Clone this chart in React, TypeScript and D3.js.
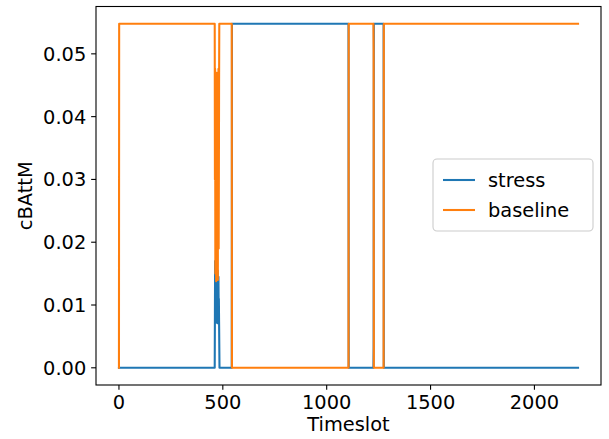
import React from "react";
import * as d3 from "d3";

// Step-series keyframes (timeslot, value)
const stressT = [0, 461, 462, 463, 464, 465, 466, 467, 468, 469, 470, 471, 472, 473, 474, 475, 476, 477, 478, 479, 480, 481, 482, 484, 543, 544, 1105, 1106, 1225, 1226, 1227, 1274, 1275, 2210];
const stressV = [0, 0, 0.009, 0.017, 0.008, 0.015, 0.0072, 0.0165, 0.01, 0.014, 0.0075, 0.016, 0.009, 0.012, 0.0071, 0.0155, 0.0085, 0.013, 0.0078, 0.0145, 0.0095, 0.011, 0.0073, 0, 0, 0.0548, 0.0548, 0, 0, 0.0035, 0.0548, 0.0548, 0, 0];

const baselineT = [0, 1, 461, 462, 463, 464, 465, 466, 467, 468, 469, 470, 471, 472, 473, 474, 475, 476, 477, 478, 479, 480, 481, 482, 483, 543, 544, 1105, 1106, 1225, 1226, 1227, 1274, 1275, 2210];
const baselineV = [0, 0.0548, 0.0548, 0.03, 0.0476, 0.015, 0.042, 0.02, 0.046, 0.0138, 0.038, 0.025, 0.047, 0.016, 0.044, 0.022, 0.035, 0.014, 0.041, 0.028, 0.0476, 0.019, 0.03, 0.045, 0.0548, 0.0548, 0, 0, 0.0548, 0.0548, 0.0505, 0, 0, 0.0548, 0.0548];

const xTicks = [0, 500, 1000, 1500, 2000];
const yTicks = [0, 0.01, 0.02, 0.03, 0.04, 0.05];
const seriesNames = ["stress", "baseline"];
const seriesColors = ["#1f77b4", "#ff7f0e"];

const W = 609, H = 439;
const L = 96, R = 601, T = 6.5, B = 385;
const FONT = "'DejaVu Sans', sans-serif";
const FS = 19.4;

export default function App() {
  const xMin = 0, xMax = 2210, yMin = 0, yMax = 0.0548;
  const xPad = (xMax - xMin) * 0.05, yPad = (yMax - yMin) * 0.05;
  const x = d3.scaleLinear().domain([xMin - xPad, xMax + xPad]).range([L, R]);
  const y = d3.scaleLinear().domain([yMin - yPad, yMax + yPad]).range([B, T]);
  const line = d3.line<[number, number]>().x(d => x(d[0])).y(d => y(d[1]));
  const stress = stressT.map((t, i) => [t, stressV[i]] as [number, number]);
  const baseline = baselineT.map((t, i) => [t, baselineV[i]] as [number, number]);
  const tickLen = 4.86;
  const pad = 4.86;

  const legX = 433, legY = 159, legW = 160, legH = 72;
  return (
    <svg width={W} height={H} style={{ display: "block", position: "absolute", left: 0, top: 0 }} fontFamily={FONT}>
      <rect x={0} y={0} width={W} height={H} fill="#fff" />
      <defs>
        <clipPath id="plotclip"><rect x={L} y={T} width={R - L} height={B - T} /></clipPath>
      </defs>
      <g clipPath="url(#plotclip)" fill="none" strokeWidth={2.08} strokeLinejoin="round" strokeLinecap="square">
        <path d={line(stress) || ""} stroke={seriesColors[0]} />
        <path d={line(baseline) || ""} stroke={seriesColors[1]} />
      </g>
      <rect x={L} y={T} width={R - L} height={B - T} fill="none" stroke="#000" strokeWidth={1.1} />
      {xTicks.map(t => (
        <g key={"x" + t}>
          <line x1={x(t)} x2={x(t)} y1={B} y2={B + tickLen} stroke="#000" strokeWidth={1.1} />
          <text x={x(t)} y={B + tickLen + pad + FS * 0.76} textAnchor="middle" fontSize={FS} fill="#000">{t}</text>
        </g>
      ))}
      {yTicks.map(t => (
        <g key={"y" + t}>
          <line x1={L - tickLen} x2={L} y1={y(t)} y2={y(t)} stroke="#000" strokeWidth={1.1} />
          <text x={L - tickLen - pad} y={y(t)} dy="0.36em" textAnchor="end" fontSize={FS} fill="#000">{t.toFixed(2)}</text>
        </g>
      ))}
      <text x={(L + R) / 2} y={431} textAnchor="middle" fontSize={FS} fill="#000">Timeslot</text>
      <text transform={`translate(${32},${(T + B) / 2}) rotate(-90)`} textAnchor="middle" fontSize={FS} fill="#000">cBAttM</text>
      <g>
        <rect x={legX} y={legY} width={legW} height={legH} rx={4} fill="#fff" fillOpacity={0.8} stroke="#cccccc" strokeWidth={1.1} />
        {seriesNames.map((n, i) => (
          <g key={n}>
            <line x1={legX + 10} x2={legX + 42} y1={legY + 21 + i * 30} y2={legY + 21 + i * 30} stroke={seriesColors[i]} strokeWidth={2.08} />
            <text x={legX + 55} y={legY + 21 + i * 30} dy="0.36em" fontSize={FS} fill="#000">{n}</text>
          </g>
        ))}
      </g>
    </svg>
  );
}
